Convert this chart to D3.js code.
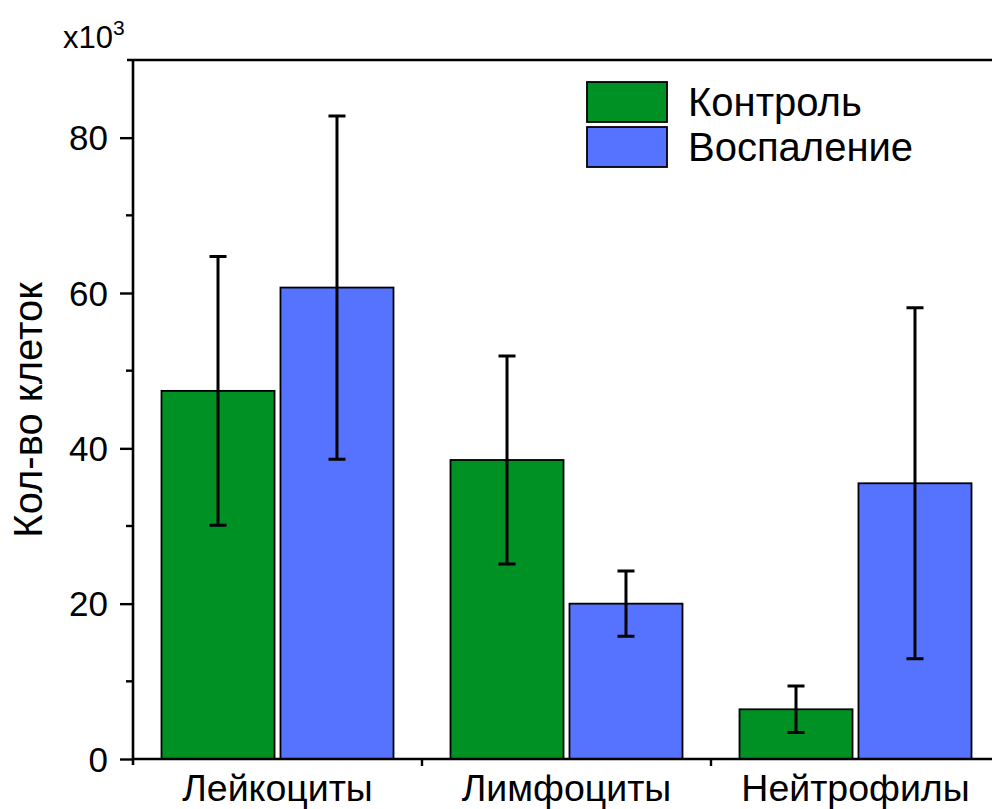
<!DOCTYPE html>
<html>
<head>
<meta charset="utf-8">
<script src="https://cdn.jsdelivr.net/npm/d3@7"></script>
<style>
  html, body { margin: 0; padding: 0; background: #fff; }
  svg { display: block; font-family: "Liberation Sans", Arial, sans-serif; }
</style>
</head>
<body>
<svg id="chart" width="992" height="809"></svg>
<script>
// Cell counts (thousands), mean and SD per cell type
const categories = ["Лейкоциты", "Лимфоциты", "Нейтрофилы"];
const seriesNames = ["Контроль", "Воспаление"];
const controlValues = [47.4, 38.5, 6.4];
const controlErrors = [17.3, 13.4, 3.0];
const inflammationValues = [60.7, 20.0, 35.5];
const inflammationErrors = [22.1, 4.2, 22.6];
const yTicks = [0, 20, 40, 60, 80];
const yMinorTicks = [10, 30, 50, 70];
const seriesColors = ["#009125", "#5673FF"];

const series = [
  { name: seriesNames[0], values: controlValues, errors: controlErrors, color: seriesColors[0] },
  { name: seriesNames[1], values: inflammationValues, errors: inflammationErrors, color: seriesColors[1] }
];

const svg = d3.select("#chart");
const plotLeft = 133, plotRight = 1000, plotTop = 60, plotBottom = 759;

const x = d3.scaleBand().domain(categories).range([plotLeft, plotRight]).paddingInner(0).paddingOuter(0);
const groupPad = 28.5;
const xSub = d3.scaleBand().domain(seriesNames)
  .range([groupPad, x.bandwidth() - groupPad]).paddingInner(0.05).paddingOuter(0);
const y = d3.scaleLinear().domain([0, 90]).range([plotBottom, plotTop]);

// Bars
const groups = svg.append("g").selectAll("g")
  .data(series).join("g");

groups.selectAll("rect")
  .data(s => categories.map((c, i) => ({ c, v: s.values[i], e: s.errors[i], s })))
  .join("rect")
  .attr("x", d => x(d.c) + xSub(d.s.name))
  .attr("y", d => y(d.v))
  .attr("width", xSub.bandwidth())
  .attr("height", d => y(0) - y(d.v))
  .attr("fill", d => d.s.color)
  .attr("stroke", "#000")
  .attr("stroke-width", 1.8);

// Error bars
const capHalf = 8.5;
groups.selectAll("path.err")
  .data(s => categories.map((c, i) => ({ c, v: s.values[i], e: s.errors[i], s })))
  .join("path")
  .attr("class", "err")
  .attr("fill", "none")
  .attr("stroke", "#000")
  .attr("stroke-width", 3)
  .attr("d", d => {
    const cx = x(d.c) + xSub(d.s.name) + xSub.bandwidth() / 2;
    const y1 = y(d.v + d.e), y0 = y(d.v - d.e);
    return `M${cx},${y0}V${y1}M${cx - capHalf},${y1}H${cx + capHalf}M${cx - capHalf},${y0}H${cx + capHalf}`;
  });

// Y axis
const yAxis = svg.append("g").attr("transform", `translate(${plotLeft},0)`)
  .call(d3.axisLeft(y).tickValues(yTicks).tickSize(13).tickPadding(12).tickFormat(d3.format("d")));
yAxis.select(".domain").remove();
yAxis.selectAll(".tick line").attr("stroke", "#000").attr("stroke-width", 2.4);
yAxis.selectAll(".tick text").attr("font-size", 35).attr("fill", "#000").attr("dy", "0.35em");
yAxis.append("g").selectAll("line").data(yMinorTicks).join("line")
  .attr("x1", -7).attr("x2", 0).attr("y1", d => y(d)).attr("y2", d => y(d))
  .attr("stroke", "#000").attr("stroke-width", 2.4);
yAxis.append("line").attr("x1", 0).attr("x2", 0).attr("y1", plotTop - 1).attr("y2", plotBottom + 6)
  .attr("stroke", "#000").attr("stroke-width", 2.6);

// X axis
const xAxis = svg.append("g").attr("transform", `translate(0,${plotBottom})`)
  .call(d3.axisBottom(x).tickSize(0).tickPadding(15));
xAxis.select(".domain").remove();
xAxis.selectAll(".tick text").attr("font-size", 37.5).attr("fill", "#000").attr("dy", "0.71em");
xAxis.append("line").attr("x1", plotLeft).attr("x2", plotRight).attr("y1", 0).attr("y2", 0)
  .attr("stroke", "#000").attr("stroke-width", 2.6);
xAxis.append("g").selectAll("line").data(categories.slice(1)).join("line")
  .attr("x1", d => x(d)).attr("x2", d => x(d)).attr("y1", 0).attr("y2", 7)
  .attr("stroke", "#000").attr("stroke-width", 2.4);

// Top frame line
svg.append("line").attr("x1", plotLeft - 6).attr("x2", plotRight).attr("y1", plotTop).attr("y2", plotTop)
  .attr("stroke", "#000").attr("stroke-width", 2.6);

// Axis title and scale factor
svg.append("text")
  .attr("transform", "translate(42,410) rotate(-90)")
  .attr("text-anchor", "middle").attr("font-size", 40).attr("fill", "#000")
  .text("Кол-во клеток");
const mult = svg.append("text").attr("x", 63).attr("y", 48).attr("font-size", 31).attr("fill", "#000");
mult.append("tspan").text("x10");
mult.append("tspan").attr("dy", -13).attr("font-size", 21).text("3");

// Legend
const legend = svg.append("g").attr("transform", "translate(587,82)");
const items = legend.selectAll("g").data(series).join("g")
  .attr("transform", (d, i) => `translate(0,${i * 45})`);
items.append("rect").attr("width", 80).attr("height", 40)
  .attr("fill", d => d.color).attr("stroke", "#000").attr("stroke-width", 1.8);
items.append("text").attr("x", 101).attr("y", 34)
  .attr("font-size", 40).attr("fill", "#000").text(d => d.name);
</script>
</body>
</html>
